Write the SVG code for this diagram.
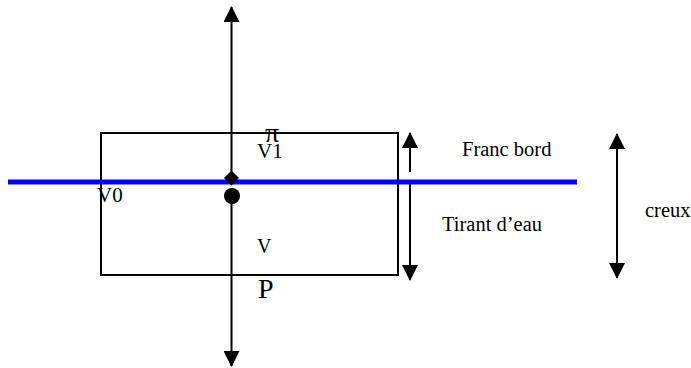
<svg xmlns="http://www.w3.org/2000/svg" width="691" height="368" viewBox="0 0 691 368">
<style>
.ln{stroke:#000;stroke-width:2;fill:none}
.t{font-family:"Liberation Serif","Times New Roman",serif;fill:#000}
.lb{font-size:20.5px}
</style>
<defs>
<marker id="ah" markerUnits="userSpaceOnUse" markerWidth="16" markerHeight="16" viewBox="0 0 16 16" refX="15" refY="8" orient="auto">
<path d="M0,0 L16,8 L0,16 Z" fill="#000"/>
</marker>
</defs>
<rect width="691" height="368" fill="#fff"/>
<g id="hull"><rect x="101" y="133" width="297" height="142" class="ln"/></g>
<g id="connectors">
<line x1="231.5" y1="179" x2="231.5" y2="7" class="ln" marker-end="url(#ah)"/>
<line x1="231.5" y1="196" x2="231.5" y2="366" class="ln" marker-end="url(#ah)"/>
<line x1="410" y1="172" x2="410" y2="133" class="ln" marker-end="url(#ah)"/>
<line x1="410" y1="182" x2="410" y2="280" class="ln" marker-end="url(#ah)"/>
<line x1="617" y1="205" x2="617" y2="134" class="ln" marker-end="url(#ah)"/>
<line x1="617" y1="205" x2="617" y2="278" class="ln" marker-end="url(#ah)"/>
</g>
<g id="waterline"><line x1="8" y1="182" x2="577" y2="182" stroke="#0000ff" stroke-width="5"/></g>
<g id="pi-point"><polygon points="231.5,170.5 239,178 231.5,185.5 224,178" fill="#000"/></g>
<g id="p-point"><circle cx="232" cy="196" r="8" fill="#000"/></g>
<g id="labels">
<text class="t" x="265" y="142" font-size="28">π</text>
<text class="t" x="257" y="158" font-size="21">V1</text>
<text class="t" x="97" y="202" font-size="21">V0</text>
<text class="t" x="257" y="253" font-size="20">V</text>
<text class="t" x="258" y="298" font-size="28">P</text>
<text class="t lb" x="462" y="156">Franc bord</text>
<text class="t lb" x="442" y="231">Tirant d’eau</text>
<text class="t lb" x="645" y="217">creux</text>
</g>
</svg>
